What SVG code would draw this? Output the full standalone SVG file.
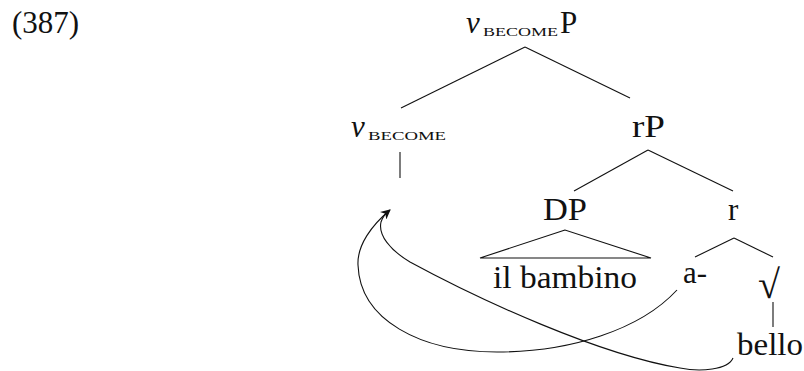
<svg xmlns="http://www.w3.org/2000/svg" width="804" height="371" viewBox="0 0 804 371">
  <style>
    .lbl { font-family: "Liberation Serif", serif; font-size: 31px; fill: #111; }
    .it { font-style: italic; }
    .sc { font-family: "Liberation Serif", serif; font-size: 13.5px; fill: #111; }
    .rad { font-family: "Liberation Serif", serif; font-size: 40px; fill: #111; }
    .edge { stroke: #111; stroke-width: 1.1; fill: none; }
    .move { stroke: #111; stroke-width: 1.1; fill: none; }
  </style>
  <defs>
    <marker id="arrow" viewBox="0 0 10 10" refX="9" refY="5" markerWidth="10" markerHeight="10" markerUnits="userSpaceOnUse" orient="auto">
      <path d="M0,0 L10,5 L0,10 L3,5 Z" fill="#111"/>
    </marker>
  </defs>

  <!-- example number -->
  <text class="lbl" x="12" y="33">(387)</text>

  <!-- tree nodes -->
  <g id="vbecomeP">
    <text class="lbl it" x="466" y="33">v</text>
    <text class="sc" x="483" y="36" textLength="75" lengthAdjust="spacingAndGlyphs">BECOME</text>
    <text class="lbl" x="560" y="33">P</text>
  </g>
  <g id="vbecome">
    <text class="lbl it" x="351" y="137">v</text>
    <text class="sc" x="368" y="140" textLength="78" lengthAdjust="spacingAndGlyphs">BECOME</text>
  </g>
  <g id="rP">
    <text class="lbl" x="632" y="137" textLength="33" lengthAdjust="spacingAndGlyphs">rP</text>
  </g>
  <g id="DP">
    <text class="lbl" x="543" y="220" textLength="44" lengthAdjust="spacingAndGlyphs">DP</text>
  </g>
  <g id="r">
    <text class="lbl" x="728" y="220">r</text>
  </g>
  <g id="ilbambino">
    <text class="lbl" x="493" y="288" textLength="144" lengthAdjust="spacingAndGlyphs">il bambino</text>
  </g>
  <g id="a">
    <text class="lbl" x="683" y="283" textLength="24" lengthAdjust="spacingAndGlyphs">a-</text>
  </g>
  <g id="root">
    <text class="rad" x="758" y="298">√</text>
  </g>
  <g id="bello">
    <text class="lbl" x="737" y="355" textLength="66" lengthAdjust="spacingAndGlyphs">bello</text>
  </g>

  <!-- branches and movement arrows -->
  <g id="connectors">
    <line class="edge" x1="525" y1="47" x2="401" y2="108"/>
    <line class="edge" x1="525" y1="47" x2="630" y2="98"/>
    <line class="edge" x1="400" y1="152" x2="400" y2="178"/>
    <line class="edge" x1="648" y1="150" x2="574" y2="191"/>
    <line class="edge" x1="648" y1="150" x2="733" y2="191"/>
    <polygon class="edge" points="565,230 480,258 651,258"/>
    <line class="edge" x1="734" y1="238" x2="695" y2="257"/>
    <line class="edge" x1="734" y1="238" x2="773" y2="257"/>
    <line class="edge" x1="773" y1="302" x2="773" y2="327"/>
    <path class="move" d="M733,358 C728,370 700,372 680,368 C600,355 480,300 410,262 C390,250 378,235 381,222 C383,216 386,213 389,211"/>
    <path class="move" marker-end="url(#arrow)" d="M677,290 C640,330 570,352 497,352 C420,352 360,320 358,265 C357,245 372,225 390,210"/>
  </g>
</svg>
